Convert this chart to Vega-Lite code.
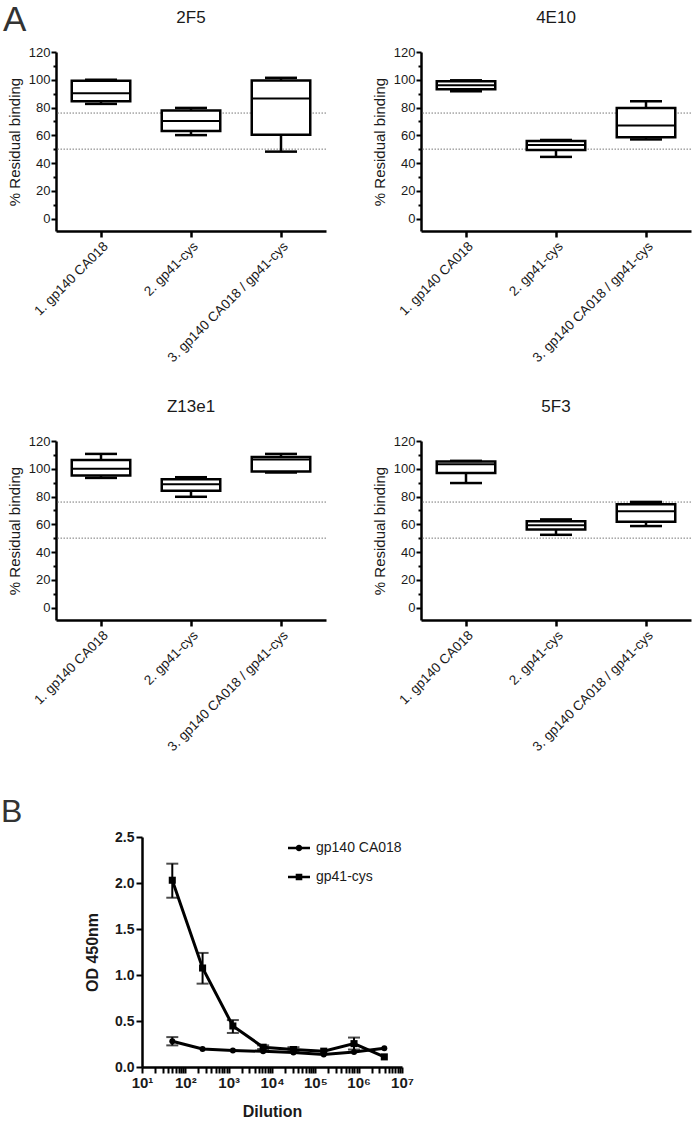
{
  "$schema": "https://vega.github.io/schema/vega-lite/v6.json",
  "background": "white",
  "padding": {"left": 1, "top": 3, "right": 0, "bottom": 0},
  "config": {
    "font": "Liberation Sans",
    "view": {"stroke": null},
    "title": {"font": "Liberation Sans", "color": "#1a1a1a", "fontWeight": "normal"},
    "axis": {"labelFont": "Liberation Sans", "titleFont": "Liberation Sans", "labelColor": "#1a1a1a", "titleColor": "#1a1a1a", "domainColor": "black", "tickColor": "black", "grid": false, "labelOverlap": false},
    "legend": {"labelFont": "Liberation Sans", "labelColor": "#1a1a1a"}
  },
  "datasets": {
    "boxes": [
      {"panel": "2F5", "group": "1. gp140 CA018", "lower": 82.6, "q1": 84.5, "median": 90.2, "q3": 99.3, "upper": 100.0},
      {"panel": "2F5", "group": "2. gp41-cys", "lower": 60.1, "q1": 63.0, "median": 70.2, "q3": 77.8, "upper": 79.7},
      {"panel": "2F5", "group": "3. gp140 CA018 / gp41-cys", "lower": 48.2, "q1": 60.4, "median": 86.4, "q3": 99.5, "upper": 101.4},
      {"panel": "4E10", "group": "1. gp140 CA018", "lower": 91.7, "q1": 93.1, "median": 96.0, "q3": 98.9, "upper": 99.6},
      {"panel": "4E10", "group": "2. gp41-cys", "lower": 44.4, "q1": 49.4, "median": 53.0, "q3": 55.9, "upper": 56.6},
      {"panel": "4E10", "group": "3. gp140 CA018 / gp41-cys", "lower": 57.0, "q1": 58.6, "median": 67.0, "q3": 79.7, "upper": 84.5},
      {"panel": "Z13e1", "group": "1. gp140 CA018", "lower": 93.4, "q1": 95.1, "median": 100.0, "q3": 106.3, "upper": 110.7},
      {"panel": "Z13e1", "group": "2. gp41-cys", "lower": 79.8, "q1": 84.1, "median": 88.8, "q3": 92.4, "upper": 93.9},
      {"panel": "Z13e1", "group": "3. gp140 CA018 / gp41-cys", "lower": 97.3, "q1": 98.0, "median": 106.6, "q3": 108.5, "upper": 110.7},
      {"panel": "5F3", "group": "1. gp140 CA018", "lower": 89.7, "q1": 97.0, "median": 103.2, "q3": 105.2, "upper": 105.7},
      {"panel": "5F3", "group": "2. gp41-cys", "lower": 52.4, "q1": 56.2, "median": 59.2, "q3": 62.1, "upper": 63.5},
      {"panel": "5F3", "group": "3. gp140 CA018 / gp41-cys", "lower": 58.7, "q1": 61.8, "median": 69.3, "q3": 74.4, "upper": 76.1}
    ],
    "refs": [{"ref": 76}, {"ref": 50}],
    "od": [
      {"dilution": 50, "series": "gp41-cys", "od": 2.03, "lo": 1.84, "hi": 2.21},
      {"dilution": 250, "series": "gp41-cys", "od": 1.076, "lo": 0.906, "hi": 1.24},
      {"dilution": 1250, "series": "gp41-cys", "od": 0.446, "lo": 0.37, "hi": 0.51},
      {"dilution": 6250, "series": "gp41-cys", "od": 0.215, "lo": 0.195, "hi": 0.235},
      {"dilution": 31250, "series": "gp41-cys", "od": 0.19, "lo": 0.17, "hi": 0.215},
      {"dilution": 156250, "series": "gp41-cys", "od": 0.172},
      {"dilution": 781250, "series": "gp41-cys", "od": 0.254, "lo": 0.19, "hi": 0.32},
      {"dilution": 3906250, "series": "gp41-cys", "od": 0.11},
      {"dilution": 50, "series": "gp140 CA018", "od": 0.28, "lo": 0.235, "hi": 0.325},
      {"dilution": 250, "series": "gp140 CA018", "od": 0.196},
      {"dilution": 1250, "series": "gp140 CA018", "od": 0.18},
      {"dilution": 6250, "series": "gp140 CA018", "od": 0.17},
      {"dilution": 31250, "series": "gp140 CA018", "od": 0.158},
      {"dilution": 156250, "series": "gp140 CA018", "od": 0.135},
      {"dilution": 781250, "series": "gp140 CA018", "od": 0.163},
      {"dilution": 3906250, "series": "gp140 CA018", "od": 0.205}
    ]
  },
  "spacing": 42,
  "resolve": {"scale": {"shape": "independent"}, "legend": {"shape": "independent"}},
  "vconcat": [
    {
      "title": {"text": "A", "anchor": "start", "frame": "group", "fontSize": 35, "color": "#333333", "offset": -29, "dx": -53},
      "spacing": 33,
      "vconcat": [
        {
          "spacing": 45,
          "hconcat": [
            {
              "title": {"text": "2F5", "fontSize": 17, "offset": 19},
              "width": 270, "height": 179,
              "resolve": {"axis": {"y": "independent"}},
              "layer": [
                {"data": {"name": "refs"}, "mark": {"type": "rule", "color": "#777777", "strokeWidth": 1, "strokeDash": [1.5, 1.5]},
                 "encoding": {"y": {"field": "ref", "type": "quantitative", "scale": {"domain": [-9, 120], "nice": false, "zero": false},
                   "axis": {"orient": "left", "values": [10, 30, 50, 70, 90, 110], "labels": false, "domain": false, "title": null, "tickSize": 3, "tickWidth": 2}}}},
                {"data": {"name": "boxes"}, "transform": [{"filter": "datum.panel === '2F5'"}], "mark": {"type": "rule", "color": "black", "strokeWidth": 2.5},
                 "encoding": {"x": {"field": "group", "type": "nominal", "title": null, "scale": {"paddingInner": 0.35, "paddingOuter": 0.175},
                   "axis": {"labelAngle": -45, "labelFontSize": 13.5, "tickSize": 6, "tickWidth": 2.5, "domainWidth": 2.5, "labelPadding": 2}},
                   "y": {"field": "lower", "type": "quantitative", "title": "% Residual binding",
                     "axis": {"orient": "left", "values": [0, 20, 40, 60, 80, 100, 120], "titleFontSize": 15, "titleFontWeight": "normal", "titlePadding": 6, "labelFontSize": 13, "tickSize": 5, "tickWidth": 2, "domainWidth": 2.5, "labelPadding": 1}},
                   "y2": {"field": "upper"}}},
                {"data": {"name": "boxes"}, "transform": [{"filter": "datum.panel === '2F5'"}], "mark": {"type": "bar", "fill": "white", "stroke": "black", "strokeWidth": 2.5},
                 "encoding": {"x": {"field": "group", "type": "nominal", "title": null}, "y": {"field": "q1", "type": "quantitative", "axis": null}, "y2": {"field": "q3"}}},
                {"data": {"name": "boxes"}, "transform": [{"filter": "datum.panel === '2F5'"}], "mark": {"type": "tick", "color": "black", "size": 58, "thickness": 2, "opacity": 1},
                 "encoding": {"x": {"field": "group", "type": "nominal", "title": null}, "y": {"field": "median", "type": "quantitative", "axis": null}}},
                {"data": {"name": "boxes"}, "transform": [{"filter": "datum.panel === '2F5'"}], "mark": {"type": "tick", "color": "black", "size": 32, "thickness": 2.5, "opacity": 1},
                 "encoding": {"x": {"field": "group", "type": "nominal", "title": null}, "y": {"field": "lower", "type": "quantitative", "axis": null}}},
                {"data": {"name": "boxes"}, "transform": [{"filter": "datum.panel === '2F5'"}], "mark": {"type": "tick", "color": "black", "size": 32, "thickness": 2.5, "opacity": 1},
                 "encoding": {"x": {"field": "group", "type": "nominal", "title": null}, "y": {"field": "upper", "type": "quantitative", "axis": null}}}
              ]
            },
            {
              "title": {"text": "4E10", "fontSize": 17, "offset": 19},
              "width": 270, "height": 179,
              "resolve": {"axis": {"y": "independent"}},
              "layer": [
                {"data": {"name": "refs"}, "mark": {"type": "rule", "color": "#777777", "strokeWidth": 1, "strokeDash": [1.5, 1.5]},
                 "encoding": {"y": {"field": "ref", "type": "quantitative", "scale": {"domain": [-9, 120], "nice": false, "zero": false},
                   "axis": {"orient": "left", "values": [10, 30, 50, 70, 90, 110], "labels": false, "domain": false, "title": null, "tickSize": 3, "tickWidth": 2}}}},
                {"data": {"name": "boxes"}, "transform": [{"filter": "datum.panel === '4E10'"}], "mark": {"type": "rule", "color": "black", "strokeWidth": 2.5},
                 "encoding": {"x": {"field": "group", "type": "nominal", "title": null, "scale": {"paddingInner": 0.35, "paddingOuter": 0.175},
                   "axis": {"labelAngle": -45, "labelFontSize": 13.5, "tickSize": 6, "tickWidth": 2.5, "domainWidth": 2.5, "labelPadding": 2}},
                   "y": {"field": "lower", "type": "quantitative", "title": "% Residual binding",
                     "axis": {"orient": "left", "values": [0, 20, 40, 60, 80, 100, 120], "titleFontSize": 15, "titleFontWeight": "normal", "titlePadding": 6, "labelFontSize": 13, "tickSize": 5, "tickWidth": 2, "domainWidth": 2.5, "labelPadding": 1}},
                   "y2": {"field": "upper"}}},
                {"data": {"name": "boxes"}, "transform": [{"filter": "datum.panel === '4E10'"}], "mark": {"type": "bar", "fill": "white", "stroke": "black", "strokeWidth": 2.5},
                 "encoding": {"x": {"field": "group", "type": "nominal", "title": null}, "y": {"field": "q1", "type": "quantitative", "axis": null}, "y2": {"field": "q3"}}},
                {"data": {"name": "boxes"}, "transform": [{"filter": "datum.panel === '4E10'"}], "mark": {"type": "tick", "color": "black", "size": 58, "thickness": 2, "opacity": 1},
                 "encoding": {"x": {"field": "group", "type": "nominal", "title": null}, "y": {"field": "median", "type": "quantitative", "axis": null}}},
                {"data": {"name": "boxes"}, "transform": [{"filter": "datum.panel === '4E10'"}], "mark": {"type": "tick", "color": "black", "size": 32, "thickness": 2.5, "opacity": 1},
                 "encoding": {"x": {"field": "group", "type": "nominal", "title": null}, "y": {"field": "lower", "type": "quantitative", "axis": null}}},
                {"data": {"name": "boxes"}, "transform": [{"filter": "datum.panel === '4E10'"}], "mark": {"type": "tick", "color": "black", "size": 32, "thickness": 2.5, "opacity": 1},
                 "encoding": {"x": {"field": "group", "type": "nominal", "title": null}, "y": {"field": "upper", "type": "quantitative", "axis": null}}}
              ]
            }
          ]
        },
        {
          "spacing": 45,
          "hconcat": [
            {
              "title": {"text": "Z13e1", "fontSize": 17, "offset": 19},
              "width": 270, "height": 179,
              "resolve": {"axis": {"y": "independent"}},
              "layer": [
                {"data": {"name": "refs"}, "mark": {"type": "rule", "color": "#777777", "strokeWidth": 1, "strokeDash": [1.5, 1.5]},
                 "encoding": {"y": {"field": "ref", "type": "quantitative", "scale": {"domain": [-9, 120], "nice": false, "zero": false},
                   "axis": {"orient": "left", "values": [10, 30, 50, 70, 90, 110], "labels": false, "domain": false, "title": null, "tickSize": 3, "tickWidth": 2}}}},
                {"data": {"name": "boxes"}, "transform": [{"filter": "datum.panel === 'Z13e1'"}], "mark": {"type": "rule", "color": "black", "strokeWidth": 2.5},
                 "encoding": {"x": {"field": "group", "type": "nominal", "title": null, "scale": {"paddingInner": 0.35, "paddingOuter": 0.175},
                   "axis": {"labelAngle": -45, "labelFontSize": 13.5, "tickSize": 6, "tickWidth": 2.5, "domainWidth": 2.5, "labelPadding": 2}},
                   "y": {"field": "lower", "type": "quantitative", "title": "% Residual binding",
                     "axis": {"orient": "left", "values": [0, 20, 40, 60, 80, 100, 120], "titleFontSize": 15, "titleFontWeight": "normal", "titlePadding": 6, "labelFontSize": 13, "tickSize": 5, "tickWidth": 2, "domainWidth": 2.5, "labelPadding": 1}},
                   "y2": {"field": "upper"}}},
                {"data": {"name": "boxes"}, "transform": [{"filter": "datum.panel === 'Z13e1'"}], "mark": {"type": "bar", "fill": "white", "stroke": "black", "strokeWidth": 2.5},
                 "encoding": {"x": {"field": "group", "type": "nominal", "title": null}, "y": {"field": "q1", "type": "quantitative", "axis": null}, "y2": {"field": "q3"}}},
                {"data": {"name": "boxes"}, "transform": [{"filter": "datum.panel === 'Z13e1'"}], "mark": {"type": "tick", "color": "black", "size": 58, "thickness": 2, "opacity": 1},
                 "encoding": {"x": {"field": "group", "type": "nominal", "title": null}, "y": {"field": "median", "type": "quantitative", "axis": null}}},
                {"data": {"name": "boxes"}, "transform": [{"filter": "datum.panel === 'Z13e1'"}], "mark": {"type": "tick", "color": "black", "size": 32, "thickness": 2.5, "opacity": 1},
                 "encoding": {"x": {"field": "group", "type": "nominal", "title": null}, "y": {"field": "lower", "type": "quantitative", "axis": null}}},
                {"data": {"name": "boxes"}, "transform": [{"filter": "datum.panel === 'Z13e1'"}], "mark": {"type": "tick", "color": "black", "size": 32, "thickness": 2.5, "opacity": 1},
                 "encoding": {"x": {"field": "group", "type": "nominal", "title": null}, "y": {"field": "upper", "type": "quantitative", "axis": null}}}
              ]
            },
            {
              "title": {"text": "5F3", "fontSize": 17, "offset": 19},
              "width": 270, "height": 179,
              "resolve": {"axis": {"y": "independent"}},
              "layer": [
                {"data": {"name": "refs"}, "mark": {"type": "rule", "color": "#777777", "strokeWidth": 1, "strokeDash": [1.5, 1.5]},
                 "encoding": {"y": {"field": "ref", "type": "quantitative", "scale": {"domain": [-9, 120], "nice": false, "zero": false},
                   "axis": {"orient": "left", "values": [10, 30, 50, 70, 90, 110], "labels": false, "domain": false, "title": null, "tickSize": 3, "tickWidth": 2}}}},
                {"data": {"name": "boxes"}, "transform": [{"filter": "datum.panel === '5F3'"}], "mark": {"type": "rule", "color": "black", "strokeWidth": 2.5},
                 "encoding": {"x": {"field": "group", "type": "nominal", "title": null, "scale": {"paddingInner": 0.35, "paddingOuter": 0.175},
                   "axis": {"labelAngle": -45, "labelFontSize": 13.5, "tickSize": 6, "tickWidth": 2.5, "domainWidth": 2.5, "labelPadding": 2}},
                   "y": {"field": "lower", "type": "quantitative", "title": "% Residual binding",
                     "axis": {"orient": "left", "values": [0, 20, 40, 60, 80, 100, 120], "titleFontSize": 15, "titleFontWeight": "normal", "titlePadding": 6, "labelFontSize": 13, "tickSize": 5, "tickWidth": 2, "domainWidth": 2.5, "labelPadding": 1}},
                   "y2": {"field": "upper"}}},
                {"data": {"name": "boxes"}, "transform": [{"filter": "datum.panel === '5F3'"}], "mark": {"type": "bar", "fill": "white", "stroke": "black", "strokeWidth": 2.5},
                 "encoding": {"x": {"field": "group", "type": "nominal", "title": null}, "y": {"field": "q1", "type": "quantitative", "axis": null}, "y2": {"field": "q3"}}},
                {"data": {"name": "boxes"}, "transform": [{"filter": "datum.panel === '5F3'"}], "mark": {"type": "tick", "color": "black", "size": 58, "thickness": 2, "opacity": 1},
                 "encoding": {"x": {"field": "group", "type": "nominal", "title": null}, "y": {"field": "median", "type": "quantitative", "axis": null}}},
                {"data": {"name": "boxes"}, "transform": [{"filter": "datum.panel === '5F3'"}], "mark": {"type": "tick", "color": "black", "size": 32, "thickness": 2.5, "opacity": 1},
                 "encoding": {"x": {"field": "group", "type": "nominal", "title": null}, "y": {"field": "lower", "type": "quantitative", "axis": null}}},
                {"data": {"name": "boxes"}, "transform": [{"filter": "datum.panel === '5F3'"}], "mark": {"type": "tick", "color": "black", "size": 32, "thickness": 2.5, "opacity": 1},
                 "encoding": {"x": {"field": "group", "type": "nominal", "title": null}, "y": {"field": "upper", "type": "quantitative", "axis": null}}}
              ]
            }
          ]
        }
      ]
    },
    {
      "spacing": 0,
      "resolve": {"scale": {"shape": "independent"}, "legend": {"shape": "independent"}},
      "hconcat": [
        {
          "title": {"text": "B", "anchor": "start", "frame": "group", "fontSize": 32, "color": "#333333", "offset": 8, "dx": -55},
          "width": 28, "height": 230,
          "data": {"values": []},
          "mark": {"type": "point"}
        },
        {
          "width": 260, "height": 230,
          "data": {"name": "od"},
          "layer": [
            {"mark": {"type": "line", "color": "black", "strokeWidth": 3},
             "encoding": {
               "x": {"field": "dilution", "type": "quantitative", "title": "Dilution",
                 "scale": {"type": "log", "domain": [10, 10000000], "nice": false},
                 "axis": {"values": [10, 20, 30, 40, 50, 60, 70, 80, 90, 100, 200, 300, 400, 500, 600, 700, 800, 900, 1000, 2000, 3000, 4000, 5000, 6000, 7000, 8000, 9000, 10000, 20000, 30000, 40000, 50000, 60000, 70000, 80000, 90000, 100000, 200000, 300000, 400000, 500000, 600000, 700000, 800000, 900000, 1000000, 2000000, 3000000, 4000000, 5000000, 6000000, 7000000, 8000000, 9000000, 10000000],
                   "labelExpr": "datum.value == 10 ? '10¹' : datum.value == 100 ? '10²' : datum.value == 1000 ? '10³' : datum.value == 10000 ? '10⁴' : datum.value == 100000 ? '10⁵' : datum.value == 1000000 ? '10⁶' : datum.value == 10000000 ? '10⁷' : ''",
                   "labelOverlap": false, "labelFlush": false, "labelFontSize": 15, "labelFontWeight": "bold", "tickSize": 6, "tickWidth": 2, "domainWidth": 2.5, "titleFontSize": 16, "titleFontWeight": "bold", "titlePadding": 13}},
               "y": {"field": "od", "type": "quantitative", "title": "OD 450nm",
                 "scale": {"domain": [0, 2.5], "nice": false},
                 "axis": {"values": [0, 0.5, 1, 1.5, 2, 2.5], "format": ".1f", "labelFontSize": 14, "labelFontWeight": "bold", "tickSize": 6, "tickWidth": 2, "domainWidth": 2.5, "titleFontSize": 16, "titleFontWeight": "bold", "titlePadding": 14}},
               "detail": {"field": "series", "type": "nominal"}
             }},
            {"transform": [{"filter": "isValid(datum.lo)"}],
             "mark": {"type": "errorbar", "ticks": {"size": 12, "thickness": 2, "color": "black"}, "rule": {"color": "black", "strokeWidth": 2}},
             "encoding": {
               "x": {"field": "dilution", "type": "quantitative", "title": "Dilution"},
               "y": {"field": "lo", "type": "quantitative", "title": "OD 450nm"},
               "y2": {"field": "hi"}
             }},
            {"transform": [{"filter": "datum.series === 'gp140 CA018'"}],
             "mark": {"type": "point", "shape": "circle", "filled": true, "color": "black", "opacity": 1, "size": 36},
             "encoding": {
               "x": {"field": "dilution", "type": "quantitative", "title": "Dilution"},
               "y": {"field": "od", "type": "quantitative", "title": "OD 450nm"}
             }},
            {"transform": [{"filter": "datum.series === 'gp41-cys'"}],
             "mark": {"type": "point", "shape": "square", "filled": true, "color": "black", "opacity": 1, "size": 50},
             "encoding": {
               "x": {"field": "dilution", "type": "quantitative", "title": "Dilution"},
               "y": {"field": "od", "type": "quantitative", "title": "OD 450nm"}
             }},
            {"transform": [{"filter": "false"}],
             "mark": {"type": "point", "filled": true, "color": "black", "opacity": 1},
             "encoding": {
               "x": {"field": "dilution", "type": "quantitative", "title": "Dilution"},
               "y": {"field": "od", "type": "quantitative", "title": "OD 450nm"},
               "shape": {"field": "series", "type": "nominal",
                 "scale": {"domain": ["gp140 CA018", "gp41-cys"], "range": ["M-1,-0.11H1V0.11H-1ZM-0.3,0A0.3,0.3,0,1,1,0.3,0A0.3,0.3,0,1,1,-0.3,0Z", "M-1,-0.11H1V0.11H-1ZM-0.3,-0.3H0.3V0.3H-0.3Z"]},
                 "legend": {"title": null, "orient": "top-right", "offset": 0, "labelFontSize": 14, "symbolSize": 484, "symbolFillColor": "black", "symbolStrokeWidth": 0, "rowPadding": 11, "labelOffset": 6}}
             }}
          ]
        }
      ]
    }
  ]
}
